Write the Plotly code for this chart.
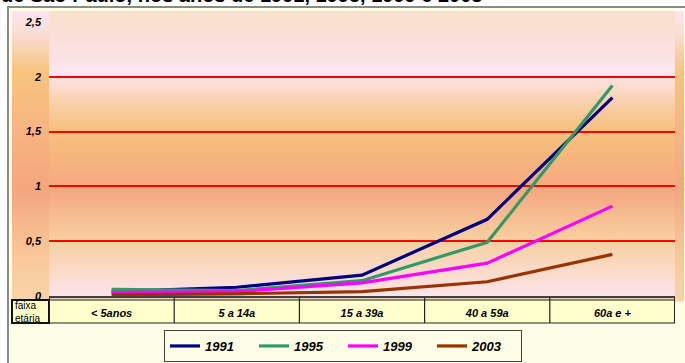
import plotly.graph_objects as go

# Age groups and rates per series
faixas = ["< 5anos", "5 a 14a", "15 a 39a", "40 a 59a", "60a e +"]
anos = ["1991", "1995", "1999", "2003"]
taxa_1991 = [0.04, 0.08, 0.19, 0.70, 1.81]
taxa_1995 = [0.06, 0.05, 0.14, 0.49, 1.92]
taxa_1999 = [0.03, 0.04, 0.12, 0.30, 0.82]
taxa_2003 = [0.01, 0.02, 0.04, 0.13, 0.38]
y_ticks = [0, 0.5, 1, 1.5, 2, 2.5]
y_tick_text = ["0", "0,5", "1", "1,5", "2", "2,5"]

series = [taxa_1991, taxa_1995, taxa_1999, taxa_2003]
cores = ["#000080", "#339966", "#FF00FF", "#993300"]

W, H = 685, 363
L, R, T, B = 49, 10, 22, 67
PW, PH = W - L - R, H - T - B


def px(x):
    return (x - L) / PW


def py(y):
    return (H - B - y) / PH


def hex2rgb(h):
    h = h.lstrip("#")
    return tuple(int(h[i:i + 2], 16) for i in (0, 2, 4))


def interp(stops, y):
    for (y0, c0), (y1, c1) in zip(stops, stops[1:]):
        if y0 <= y <= y1:
            t = (y - y0) / (y1 - y0) if y1 > y0 else 0
            a, b = hex2rgb(c0), hex2rgb(c1)
            return "rgb(%d,%d,%d)" % tuple(round(a[i] + (b[i] - a[i]) * t) for i in range(3))
    return stops[-1][1] if y > stops[-1][0] else stops[0][1]


def gradient(x0, x1, y0, y1, stops, step=2):
    out = []
    y = y0
    while y < y1:
        yb = min(y + step, y1)
        out.append(dict(type="rect", xref="paper", yref="paper", layer="below",
                        x0=px(x0), x1=px(x1), y0=py(yb + 0.6), y1=py(y),
                        fillcolor=interp(stops, y + step / 2), line_width=0))
        y = yb
    return out


shapes = []
# frame
shapes.append(dict(type="rect", xref="paper", yref="paper", layer="below",
                   x0=px(8), x1=px(700), y0=py(380), y1=py(7),
                   fillcolor="#FEFEE6", line=dict(color="#8A8A8A", width=2)))
# chart area gradient
outer = [(11, "#FCE6EE"), (35, "#F9DCD2"), (72, "#F8C47C"), (130, "#F7B482"),
         (190, "#F5A67E"), (255, "#F8C898"), (301, "#F8D4A8")]
shapes += gradient(12, 684, 11, 301, outer)
# plot area gradient
inner = [(11, "#F6E2CA"), (40, "#FADFDA"), (72, "#FDE6EE"), (100, "#F9D2B0"),
         (130, "#F8C07C"), (190, "#F5A880"), (240, "#F8CFA0"), (296, "#FCE4EA")]
shapes += gradient(49, 675, 11, 296, inner)

# category table
shapes.append(dict(type="rect", xref="x", yref="paper", layer="below",
                   x0=-0.5, x1=4.5, y0=py(323), y1=py(300),
                   fillcolor="#FFFFCC", line=dict(color="#222222", width=1.2)))
shapes.append(dict(type="rect", xref="paper", yref="paper", layer="below",
                   x0=px(12), x1=px(49), y0=py(323), y1=py(300),
                   fillcolor="#FFFFCC", line=dict(color="#111111", width=2)))
for i in range(len(faixas) + 1):
    w = 2 if i in (0, len(faixas)) else 1.2
    shapes.append(dict(type="line", xref="x", yref="paper", layer="below",
                       x0=i - 0.5, x1=i - 0.5, y0=py(323), y1=py(296),
                       line=dict(color="#222222", width=w)))

fig = go.Figure()
for ano, vals, cor in zip(anos, series, cores):
    fig.add_trace(go.Scatter(x=faixas, y=vals, name=ano, mode="lines",
                             line=dict(color=cor, width=3.2)))

fig.update_layout(
    width=W, height=H,
    margin=dict(l=L, r=R, t=T, b=B, autoexpand=False),
    paper_bgcolor="white",
    plot_bgcolor="rgba(0,0,0,0)",
    shapes=shapes,
    showlegend=True,
    legend=dict(orientation="h", x=px(164), xanchor="left", y=py(330), yanchor="top",
                bgcolor="#FEFEE6", bordercolor="#404040", borderwidth=1,
                entrywidth=44, entrywidthmode="pixels", tracegroupgap=0,
                font=dict(family="Liberation Sans", size=13, color="black",
                          weight="bold", style="italic")),
    annotations=[
        dict(text="faixa<br>etária", xref="paper", yref="paper", x=px(13), y=py(311.5),
             xanchor="left", yanchor="middle", showarrow=False, align="left",
             font=dict(family="Liberation Sans", size=10, color="black")),
        dict(text="<b>de São Paulo, nos anos de 1991, 1995, 1999 e 2003</b>",
             xref="paper", yref="paper", x=px(-1), y=py(7.5), xanchor="left", yanchor="bottom",
             showarrow=False, font=dict(family="Liberation Sans", size=20, color="black")),
    ],
)
fig.update_xaxes(range=[-0.5, 4.5], showgrid=False, showline=True, linecolor="#404040",
                 linewidth=1.5, ticks="", ticklabelstandoff=6,
                 tickfont=dict(family="Liberation Sans", size=11, color="black",
                               weight="bold", style="italic"))
fig.update_yaxes(range=[0, 2.5], tickvals=y_ticks, ticktext=y_tick_text, showgrid=True,
                 gridcolor="#FF0000", gridwidth=2, zeroline=False, showline=False,
                 ticks="", ticklabelstandoff=7,
                 tickfont=dict(family="Liberation Sans", size=11, color="black",
                               weight="bold", style="italic"))

fig.write_html("out.html")
